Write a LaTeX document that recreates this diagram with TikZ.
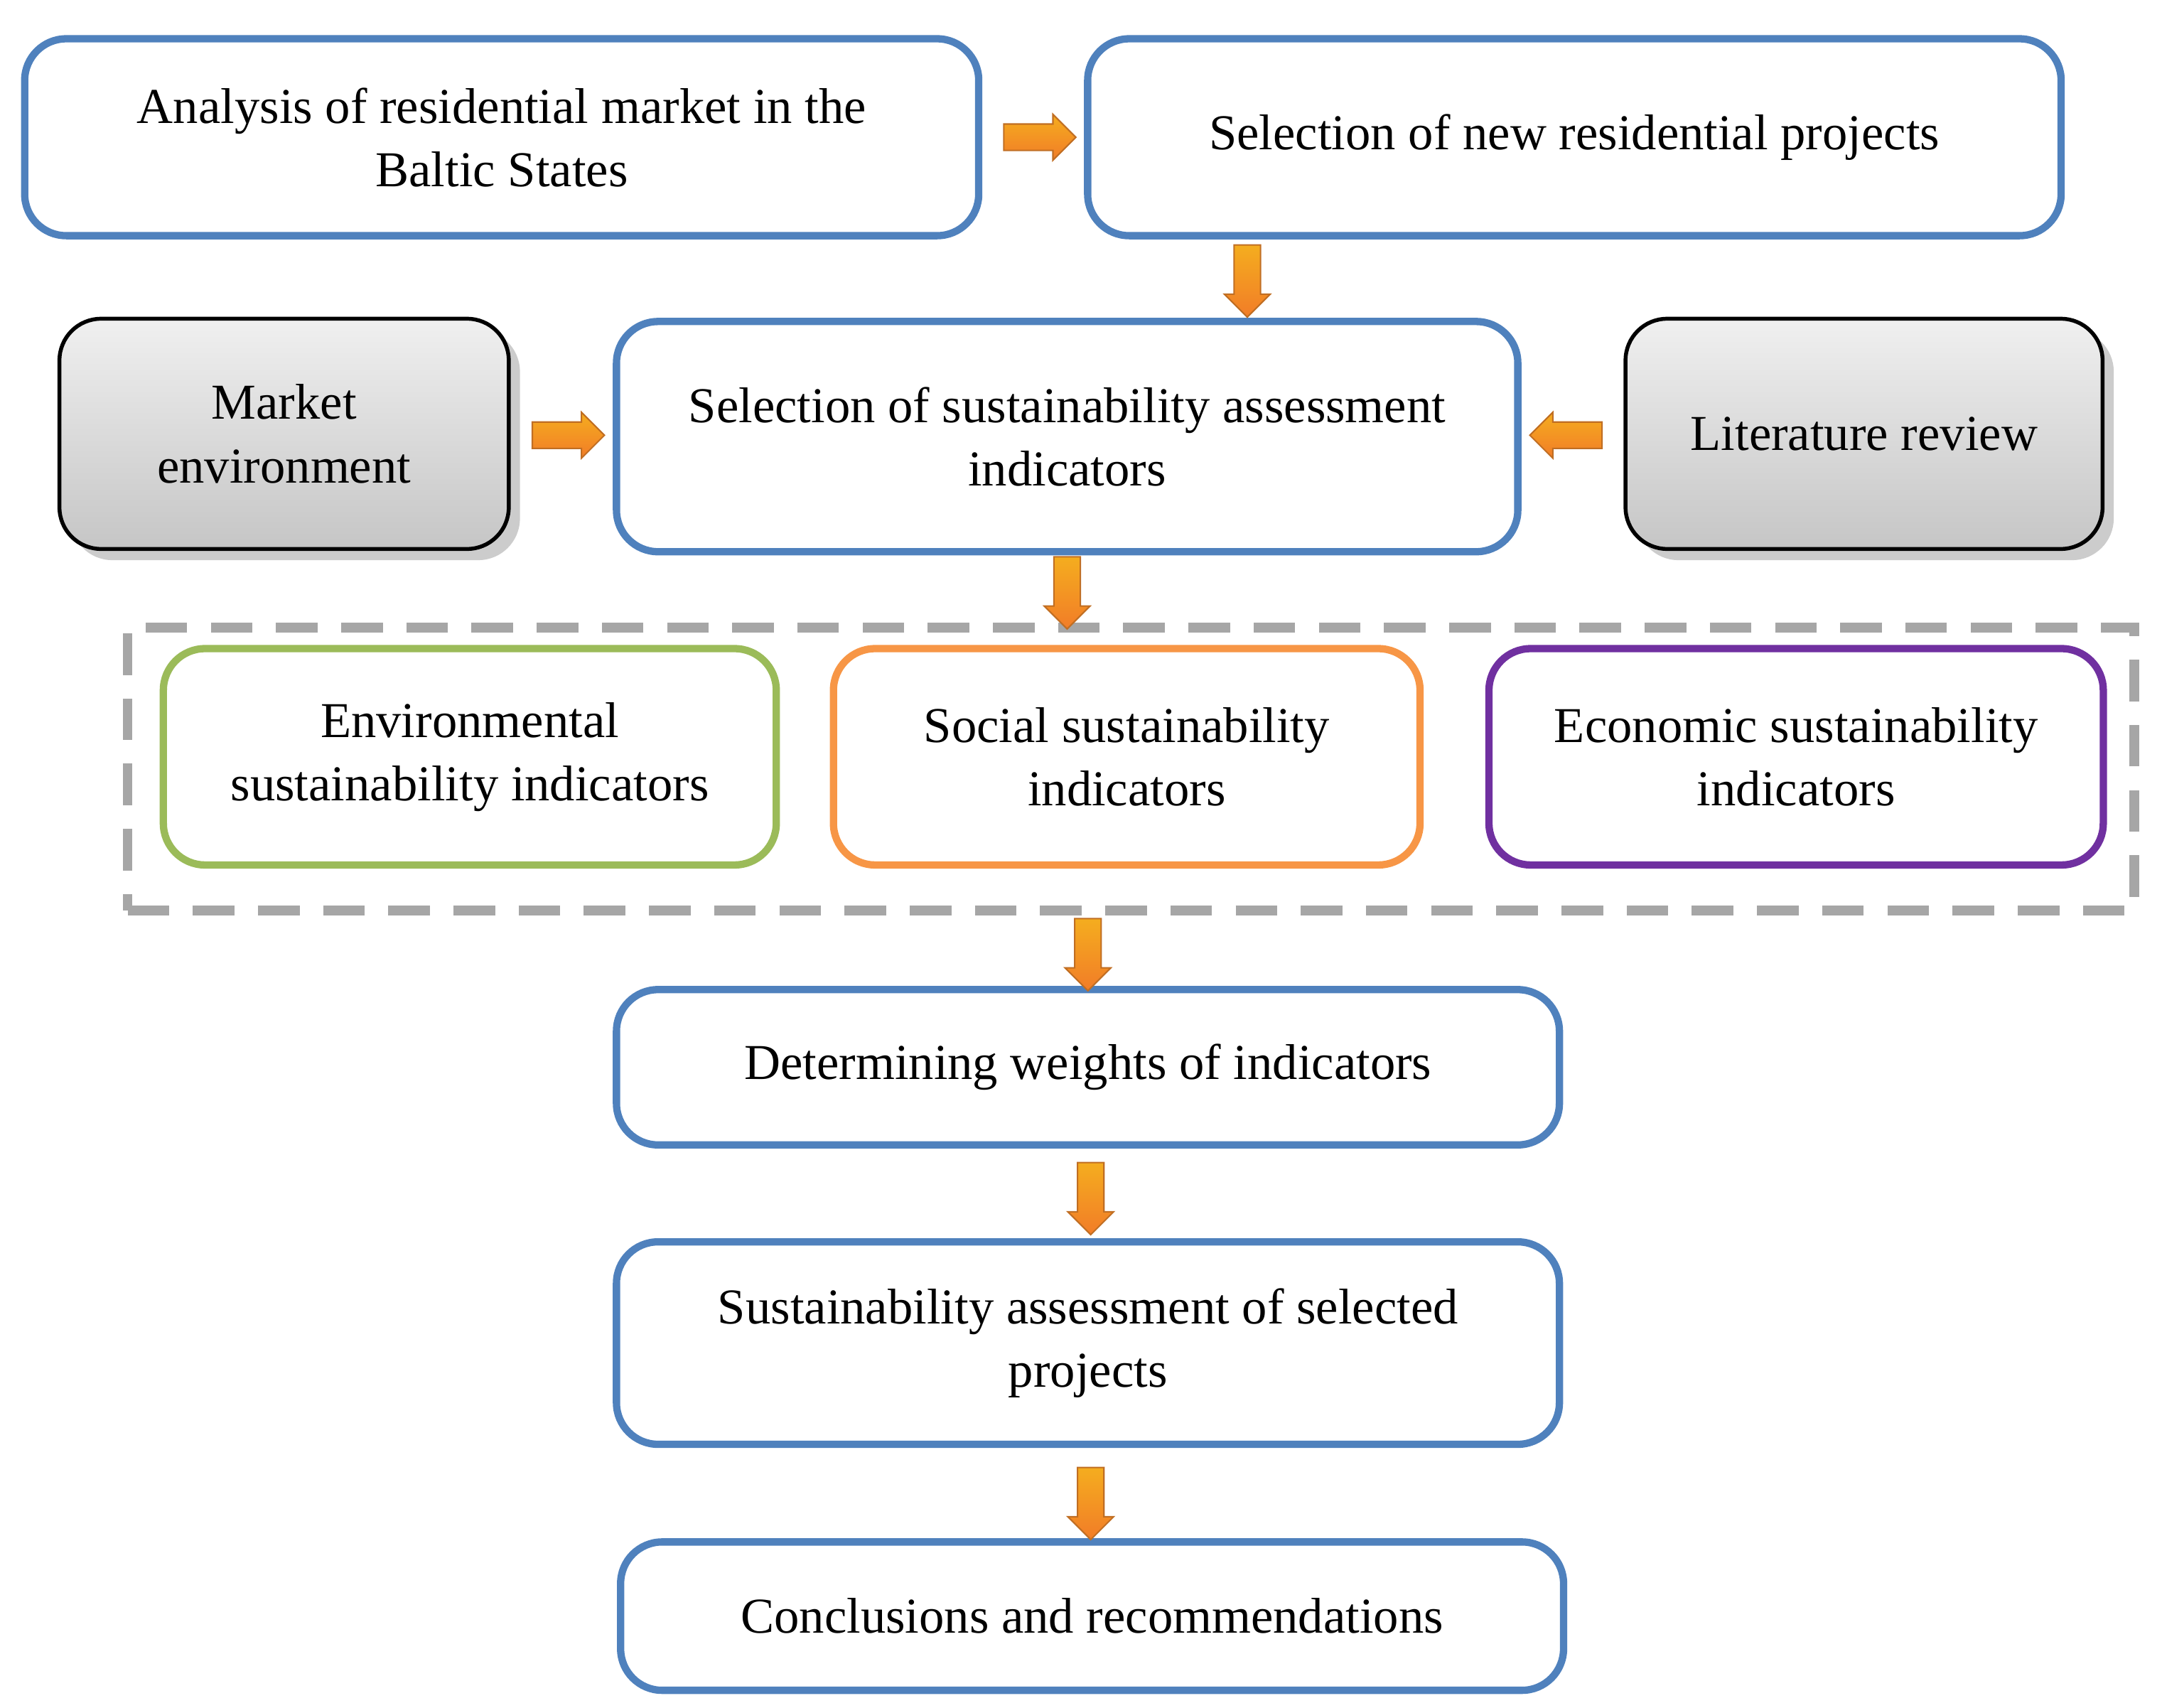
\documentclass[tikz,border=0pt]{standalone}
\usepackage{fontspec}
\setmainfont{Liberation Serif}
\usetikzlibrary{shapes.arrows,shadows,calc}
\definecolor{bl}{HTML}{4F81BD}
\definecolor{gr}{HTML}{9BBB59}
\definecolor{og}{HTML}{F79646}
\definecolor{pu}{HTML}{7030A0}
\definecolor{ar}{HTML}{F08A2C}
\begin{document}
\begin{tikzpicture}[x=0.01cm,y=-0.01cm,
  box/.style={draw=bl,line width=1.5pt,rounded corners=0.3cm,fill=white,align=center,font=\fontsize{10.3}{13}\selectfont,inner sep=0pt},
  gbox/.style={box,draw=black,line width=0.8pt,top color=gray!12,bottom color=gray!45,drop shadow={opacity=0.4}},
  arr/.style={single arrow,draw=ar!80!black,line width=0.3pt,top color=ar!70!yellow,bottom color=ar!90!red,minimum height=0.52cm,text width=0pt,text height=0pt,text depth=0pt,inner sep=0.09cm,single arrow head extend=0.07cm}]
\useasboundingbox (0,0) rectangle (1560,1232);
\node[box,minimum width=6.88cm,minimum height=1.42cm] (a) at (362,99) {Analysis of residential market in the\\Baltic States};
\node[box,minimum width=7.02cm,minimum height=1.42cm] (b) at (1136,99) {Selection of new residential projects};
\node[gbox,minimum width=3.24cm,minimum height=1.66cm] (m) at (205,313) {Market\\environment};
\node[box,minimum width=6.5cm,minimum height=1.66cm] (s) at (770,315) {Selection of sustainability assessment\\indicators};
\node[gbox,minimum width=3.44cm,minimum height=1.66cm] (l) at (1345,313) {Literature review};
\node[draw=gray!70,dashed,dash pattern=on 0.3cm off 0.17cm,line width=2pt,minimum width=14.47cm,minimum height=2.04cm,inner sep=0pt] (d) at (816,555) {};
\node[box,draw=gr,minimum width=4.42cm,minimum height=1.56cm] (e) at (339,546) {Environmental\\sustainability indicators};
\node[box,draw=og,minimum width=4.23cm,minimum height=1.56cm] (so) at (813,546) {Social sustainability\\indicators};
\node[box,draw=pu,minimum width=4.43cm,minimum height=1.56cm] (ec) at (1296,546) {Economic sustainability\\indicators};
\node[box,minimum width=6.8cm,minimum height=1.12cm] (w) at (785,770) {Determining weights of indicators};
\node[box,minimum width=6.8cm,minimum height=1.46cm] (sa) at (785,969) {Sustainability assessment of selected\\projects};
\node[box,minimum width=6.8cm,minimum height=1.07cm] (c) at (788,1166) {Conclusions and recommendations};
\node[arr] (a1) at ($(a.east)!0.5!(b.west)$) {};
\node[arr,rotate=-90] (a2) at (900,198) {};
\node[arr] (a3) at ($(m.east)!0.5!(s.west)$) {};
\node[arr,rotate=180] (a4) at ($(l.west)!0.5!(s.east)$) {};
\node[arr,rotate=-90] (a5) at (770,423) {};
\node[arr,rotate=-90] (a6) at (785,684) {};
\node[arr,rotate=-90] (a7) at (787,860) {};
\node[arr,rotate=-90] (a8) at (787,1080) {};
\end{tikzpicture}
\end{document}
